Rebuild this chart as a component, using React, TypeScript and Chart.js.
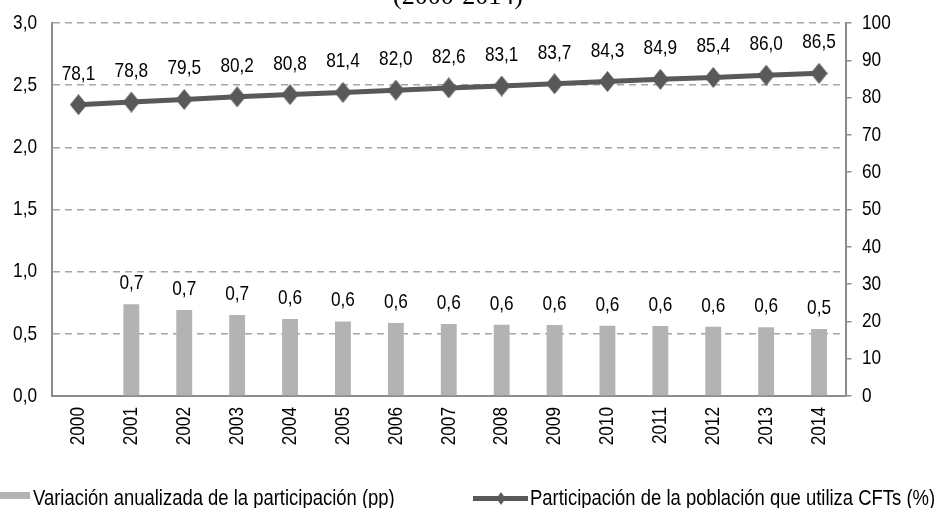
import React, { useEffect, useRef } from "react";
import { Chart, registerables } from "chart.js";

Chart.register(...registerables);

const years = ["2000", "2001", "2002", "2003", "2004", "2005", "2006", "2007", "2008", "2009", "2010", "2011", "2012", "2013", "2014"];
const variation: (number | null)[] = [null, 0.737, 0.691, 0.651, 0.619, 0.6, 0.587, 0.579, 0.573, 0.571, 0.565, 0.563, 0.557, 0.552, 0.539];
const participation = [78.1, 78.8, 79.5, 80.2, 80.8, 81.4, 82.0, 82.6, 83.1, 83.7, 84.3, 84.9, 85.4, 86.0, 86.5];
const leftAxis = { min: 0, max: 3, step: 0.5 };
const rightAxis = { min: 0, max: 100, step: 10 };
const barLegend = "Variación anualizada de la participación (pp)";
const lineLegend = "Participación de la población que utiliza CFTs (%)";
const subtitle = "(2000-2014)";

const SANS = "'Liberation Sans', Arial, sans-serif";
const NARROW_SCALE = 0.82;
const BAR_COLOR = "#b3b3b3";
const LINE_COLOR = "#595959";
const AXIS_COLOR = "#8c8c8c";
const GRID_COLOR = "#a6a6a6";

const comma = (v: number) => Number(v).toFixed(1).replace(".", ",");

// Draw text with a condensed (narrow) look, like Arial Narrow.
function narrowText(
  ctx: CanvasRenderingContext2D,
  text: string,
  x: number,
  y: number,
  size: number,
  align: CanvasTextAlign,
  baseline: CanvasTextBaseline,
  rotate = 0
) {
  ctx.save();
  ctx.translate(x, y);
  if (rotate) ctx.rotate(rotate);
  ctx.scale(NARROW_SCALE, 1);
  ctx.font = `${size}px ${SANS}`;
  ctx.textAlign = align;
  ctx.textBaseline = baseline;
  ctx.fillStyle = "#000";
  ctx.fillText(text, 0, 0);
  ctx.restore();
}

function makeDiamond(w: number, h: number, color: string) {
  const c = document.createElement("canvas");
  c.width = w;
  c.height = h;
  const g = c.getContext("2d")!;
  g.fillStyle = color;
  g.beginPath();
  g.moveTo(w / 2, 0);
  g.lineTo(w, h / 2);
  g.lineTo(w / 2, h);
  g.lineTo(0, h / 2);
  g.closePath();
  g.fill();
  return c;
}

const axisLabelsPlugin = {
  id: "axisLabels",
  afterDraw(chart: any) {
    const ctx = chart.ctx;
    const { x, y, y1 } = chart.scales;
    y.ticks.forEach((t: any) => {
      narrowText(ctx, comma(t.value), y.right - 15, y.getPixelForValue(t.value), 21, "right", "middle");
    });
    y1.ticks.forEach((t: any) => {
      narrowText(ctx, String(t.value), y1.left + 16.5, y1.getPixelForValue(t.value), 21, "left", "middle");
    });
    x.ticks.forEach((t: any, i: number) => {
      narrowText(ctx, String(chart.data.labels[i]), x.getPixelForTick(i), x.top + 11, 21, "right", "middle", -Math.PI / 2);
    });
  },
};

const labelsPlugin = {
  id: "valueLabels",
  afterDatasetsDraw(chart: any) {
    const ctx = chart.ctx;
    chart.data.datasets.forEach((ds: any, i: number) => {
      const meta = chart.getDatasetMeta(i);
      meta.data.forEach((el: any, j: number) => {
        const v = ds.data[j];
        if (v === null || v === undefined) return;
        const off = ds.type === "bar" ? 15 : 25;
        narrowText(ctx, comma(v), el.x, el.y - off, 21, "center", "alphabetic");
      });
    });
  },
};

const legendPlugin = {
  id: "customLegend",
  afterDraw(chart: any) {
    const ctx = chart.ctx;
    const H = chart.height;
    ctx.save();
    // subtitle (clipped at the top)
    ctx.fillStyle = "#000";
    ctx.font = `26px 'Liberation Serif', 'Times New Roman', serif`;
    ctx.textAlign = "center";
    ctx.textBaseline = "alphabetic";
    ctx.fillText(subtitle, 458, 4);

    const baseY = H - 3;
    // bar legend
    ctx.fillStyle = BAR_COLOR;
    ctx.fillRect(0, H - 16, 30, 7);
    narrowText(ctx, barLegend, 33, baseY, 22.5, "left", "alphabetic");
    // line legend
    const ly = H - 9.5;
    ctx.strokeStyle = LINE_COLOR;
    ctx.lineWidth = 5;
    ctx.beginPath();
    ctx.moveTo(473, ly);
    ctx.lineTo(528, ly);
    ctx.stroke();
    ctx.fillStyle = LINE_COLOR;
    ctx.beginPath();
    ctx.moveTo(501, ly - 6.5);
    ctx.lineTo(505.5, ly);
    ctx.lineTo(501, ly + 6.5);
    ctx.lineTo(496.5, ly);
    ctx.closePath();
    ctx.fill();
    narrowText(ctx, lineLegend, 530, baseY, 22.5, "left", "alphabetic");
    ctx.restore();
  },
};

export default function App() {
  const ref = useRef<HTMLCanvasElement | null>(null);

  useEffect(() => {
    document.body.style.margin = "0";
    if (!ref.current) return;
    const diamond = makeDiamond(17, 21, LINE_COLOR);
    const chart = new Chart(ref.current, {
      data: {
        labels: years,
        datasets: [
          {
            type: "line" as const,
            label: lineLegend,
            data: participation,
            yAxisID: "y1",
            borderColor: LINE_COLOR,
            backgroundColor: LINE_COLOR,
            borderWidth: 5,
            pointStyle: diamond as any,
            pointRadius: 9,
            order: 1,
          },
          {
            type: "bar" as const,
            label: barLegend,
            data: variation,
            yAxisID: "y",
            backgroundColor: BAR_COLOR,
            barPercentage: 0.3,
            categoryPercentage: 1,
            order: 2,
          },
        ],
      } as any,
      options: {
        responsive: false,
        animation: false,
        layout: { padding: { top: 23, bottom: 42, left: 0, right: 0 } },
        plugins: { legend: { display: false }, tooltip: { enabled: false }, title: { display: false } },
        scales: {
          x: {
            type: "category",
            offset: true,
            grid: { display: true, drawOnChartArea: false, drawTicks: false },
            border: { display: true, color: AXIS_COLOR, width: 2 },
            ticks: { display: false, autoSkip: false },
            afterFit: (s: any) => {
              s.height = 70;
            },
          },
          y: {
            type: "linear",
            position: "left",
            min: leftAxis.min,
            max: leftAxis.max,
            ticks: { display: false, stepSize: leftAxis.step },
            grid: {
              drawTicks: false,
              lineWidth: 1.5,
              color: (c: any) => (c.tick && c.tick.value === 0 ? "rgba(0,0,0,0)" : GRID_COLOR),
            },
            border: { display: true, color: AXIS_COLOR, width: 2, dash: [7, 5] },
            afterFit: (s: any) => {
              s.width = 52;
            },
          },
          y1: {
            type: "linear",
            position: "right",
            min: rightAxis.min,
            max: rightAxis.max,
            ticks: { display: false, stepSize: rightAxis.step },
            grid: { drawOnChartArea: false, drawTicks: true, tickLength: 6, color: AXIS_COLOR, lineWidth: 1.5 },
            border: { display: true, color: AXIS_COLOR, width: 2 },
            afterFit: (s: any) => {
              s.width = 100.5;
            },
          },
        },
      } as any,
      plugins: [labelsPlugin, axisLabelsPlugin, legendPlugin],
    });
    return () => chart.destroy();
  }, []);

  return <canvas ref={ref} width={946} height={508} style={{ display: "block" }} />;
}
